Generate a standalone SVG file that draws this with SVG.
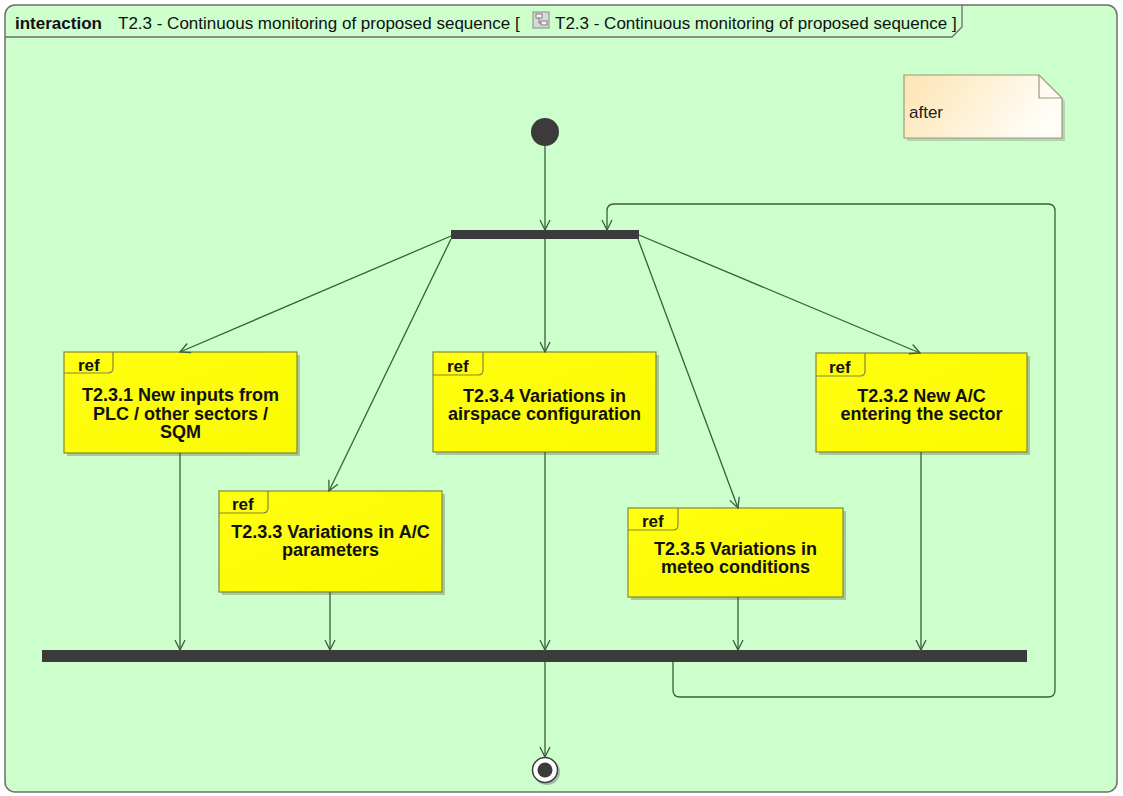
<svg xmlns="http://www.w3.org/2000/svg" width="1123" height="796" viewBox="0 0 1123 796">
  <defs>
    <style>
      .frame { fill: #ccffcc; stroke: #6e6e6e; stroke-width: 1.5; }
      .tab { fill: none; stroke: #6e6e6e; stroke-width: 1.3; }
      .title { font-family: "Liberation Sans", Arial, sans-serif; font-size: 17px; fill: #111; }
      .title-b { font-weight: bold; }
      .box { fill: url(#yellowFill); stroke: #86863a; stroke-width: 1.2; }
      .shadow { fill: #7f9f78; opacity: 0.55; }
      .reftab { fill: none; stroke: #86863a; stroke-width: 1.2; }
      .ref { font-family: "Liberation Sans", Arial, sans-serif; font-size: 17px; font-weight: bold; fill: #111; }
      .label { font-family: "Liberation Sans", Arial, sans-serif; font-size: 18px; font-weight: bold; fill: #111; text-anchor: middle; }
      .edge { fill: none; stroke: #3d5c3d; stroke-width: 1.3; }
      .bar { fill: #3b3b3b; }
      .note { fill: url(#noteFill); stroke: #9a9a7a; stroke-width: 1.2; }
      .notetext { font-family: "Liberation Sans", Arial, sans-serif; font-size: 17px; fill: #222; }
    </style>
    <linearGradient id="yellowFill" x1="0" y1="0" x2="1" y2="1">
      <stop offset="0" stop-color="#ffff10"/>
      <stop offset="1" stop-color="#fafa00"/>
    </linearGradient>
    <linearGradient id="noteFill" x1="0" y1="0" x2="1" y2="0.3">
      <stop offset="0" stop-color="#fde4b2"/>
      <stop offset="1" stop-color="#fffdf6"/>
    </linearGradient>
    <marker id="open" viewBox="0 0 12 12" refX="11" refY="6" markerWidth="12" markerHeight="12" markerUnits="userSpaceOnUse" orient="auto">
      <path d="M1,1 L11,6 L1,11" fill="none" stroke="#3d5c3d" stroke-width="1.3"/>
    </marker>
  </defs>

  <rect width="1123" height="796" fill="#ffffff"/>

  <!-- interaction frame -->
  <g id="frame">
    <rect class="frame" x="5" y="5" width="1112" height="787" rx="10" ry="10"/>
    <path class="tab" d="M5,37 H952 L962,27 V5"/>
    <text class="title" x="15" y="29"><tspan class="title-b">interaction</tspan></text>
    <text class="title" x="118" y="29">T2.3 - Continuous monitoring of proposed sequence [</text>
    <g id="diagram-icon">
      <rect x="533" y="12" width="16" height="16" fill="#d8d8d8" stroke="#8a8a8a" stroke-width="1"/>
      <rect x="536" y="14" width="6" height="4" fill="#f4f4f4" stroke="#666" stroke-width="0.8"/>
      <rect x="541" y="21" width="6" height="4" fill="#f4f4f4" stroke="#666" stroke-width="0.8"/>
      <path d="M539,18 V23 H541" fill="none" stroke="#666" stroke-width="0.8"/>
    </g>
    <text class="title" x="555" y="29">T2.3 - Continuous monitoring of proposed sequence ]</text>
  </g>

  <!-- comment -->
  <g id="note-after">
    <path d="M907,78 H1042 L1065,101 V141 H907 Z" fill="#a8b8a0" opacity="0.6"/>
    <path class="note" d="M904,75 H1039 L1062,98 V138 H904 Z"/>
    <path d="M1039,75 V98 H1062" fill="none" stroke="#9a9a7a" stroke-width="1.2"/>
    <text class="notetext" x="909" y="118">after</text>
  </g>

  <!-- control nodes -->
  <g id="initial">
    <circle cx="545" cy="132" r="14" fill="#3b3b3b"/>
  </g>
  <g id="fork">
    <rect class="bar" x="451" y="230" width="188" height="9"/>
  </g>
  <g id="join">
    <rect class="bar" x="42" y="650" width="985" height="12"/>
  </g>
  <g id="final">
    <circle cx="547" cy="772" r="13" fill="#8a8a8a" opacity="0.6"/>
    <circle cx="545" cy="770" r="12.5" fill="#ffffff" stroke="#3b3b3b" stroke-width="1.5"/>
    <circle cx="545" cy="770" r="7.5" fill="#3b3b3b"/>
  </g>

  <!-- interaction uses -->
  <g id="ref-t231">
    <rect class="shadow" x="67" y="355" width="233" height="101"/>
    <rect class="box" x="64" y="352" width="233" height="101"/>
    <path class="reftab" d="M64,373 H108 Q113,373 113,368 V352"/>
    <text class="ref" x="78" y="371">ref</text>
    <text class="label" x="180.5" y="401">T2.3.1 New inputs from</text>
    <text class="label" x="180.5" y="419.5">PLC / other sectors /</text>
    <text class="label" x="180.5" y="438">SQM</text>
  </g>

  <g id="ref-t233">
    <rect class="shadow" x="222" y="494" width="223" height="101"/>
    <rect class="box" x="219" y="491" width="223" height="101"/>
    <path class="reftab" d="M219,513 H263 Q268,513 268,508 V491"/>
    <text class="ref" x="232" y="510">ref</text>
    <text class="label" x="330.5" y="538">T2.3.3 Variations in A/C</text>
    <text class="label" x="330.5" y="556">parameters</text>
  </g>

  <g id="ref-t234">
    <rect class="shadow" x="436" y="355" width="223" height="100"/>
    <rect class="box" x="433" y="352" width="223" height="100"/>
    <path class="reftab" d="M433,375 H478 Q483,375 483,370 V352"/>
    <text class="ref" x="447" y="372">ref</text>
    <text class="label" x="544.5" y="402">T2.3.4 Variations in</text>
    <text class="label" x="544.5" y="420">airspace configuration</text>
  </g>

  <g id="ref-t232">
    <rect class="shadow" x="819" y="356" width="211" height="99"/>
    <rect class="box" x="816" y="353" width="211" height="99"/>
    <path class="reftab" d="M816,376 H860 Q865,376 865,371 V353"/>
    <text class="ref" x="829" y="373">ref</text>
    <text class="label" x="921.5" y="402">T2.3.2 New A/C</text>
    <text class="label" x="921.5" y="420">entering the sector</text>
  </g>

  <g id="ref-t235">
    <rect class="shadow" x="631" y="511" width="215" height="89"/>
    <rect class="box" x="628" y="508" width="215" height="89"/>
    <path class="reftab" d="M628,530 H673 Q678,530 678,525 V508"/>
    <text class="ref" x="642" y="527">ref</text>
    <text class="label" x="735.5" y="555">T2.3.5 Variations in</text>
    <text class="label" x="735.5" y="573">meteo conditions</text>
  </g>

  <!-- control flows -->
  <g id="connectors">
    <path class="edge" marker-end="url(#open)" d="M545,146 V230"/>
    <path class="edge" marker-end="url(#open)" d="M451,236 L180,352"/>
    <path class="edge" marker-end="url(#open)" d="M451,239 L329,491"/>
    <path class="edge" marker-end="url(#open)" d="M545,239 V352"/>
    <path class="edge" marker-end="url(#open)" d="M638,239 L738,508"/>
    <path class="edge" marker-end="url(#open)" d="M639,235 L920,353"/>
    <path class="edge" marker-end="url(#open)" d="M180,453 V650"/>
    <path class="edge" marker-end="url(#open)" d="M330,592 V650"/>
    <path class="edge" marker-end="url(#open)" d="M545,452 V650"/>
    <path class="edge" marker-end="url(#open)" d="M738,597 V650"/>
    <path class="edge" marker-end="url(#open)" d="M921,452 V650"/>
    <path class="edge" marker-end="url(#open)" d="M545,662 V757"/>
    <path class="edge" marker-end="url(#open)" d="M673,662 V690 Q673,697 680,697 H1048 Q1055,697 1055,690 V211 Q1055,204 1048,204 H614 Q607,204 607,211 V230"/>
  </g>
</svg>
